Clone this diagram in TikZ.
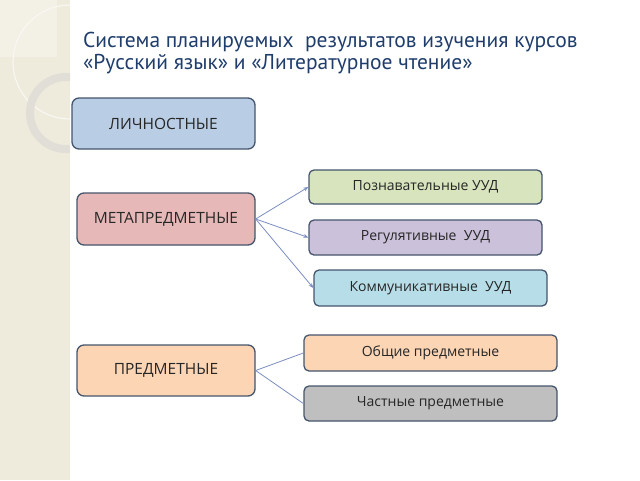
\documentclass[tikz,border=0pt]{standalone}
\usepackage{fontspec}
\setmainfont{PT Sans}
\newfontfamily\boxfont{Open Sans}
\usetikzlibrary{arrows.meta}
\definecolor{stripbg}{HTML}{EEEADC}
\definecolor{stripsq}{HTML}{F3F0E6}
\definecolor{ringgray}{HTML}{E0DED7}
\definecolor{titleblue}{HTML}{1F3D6B}
\definecolor{boxline}{HTML}{45556C}
\definecolor{linkblue}{HTML}{7A8DC0}
\definecolor{lichfill}{HTML}{B9CDE5}
\definecolor{metafill}{HTML}{E6B9B8}
\definecolor{pozfill}{HTML}{D7E4BD}
\definecolor{regfill}{HTML}{CCC1DA}
\definecolor{komfill}{HTML}{B7DEE8}
\definecolor{predfill}{HTML}{FCD5B5}
\definecolor{chastfill}{HTML}{BFBFBF}
\tikzset{
  box/.style={draw=boxline, line width=1.3pt, rounded corners=7pt, inner sep=0pt,
    text=black!85, font=\boxfont\fontsize{15.5}{18}\selectfont},
  smallbox/.style={box, rounded corners=5pt, font=\boxfont\fontsize{14}{16}\selectfont},
  link/.style={draw=linkblue, line width=0.8pt}
}
\begin{document}
\begin{tikzpicture}[x=1pt,y=-1pt,>=Stealth]
  \useasboundingbox (0,0) rectangle (640,480);
  % left strip
  \fill[stripbg] (0,0) rectangle (70,480);
  \fill[stripsq] (0,0) rectangle (57,57);
  \begin{scope}
    \clip (0,0) rectangle (70,480);
    \draw[white!60!stripbg, line width=1.2pt] (70,62) circle (57);
    \draw[ringgray, line width=8pt] (66,113) circle (36);
  \end{scope}
  % title
  \node[anchor=base west, inner sep=0pt, text=titleblue, font=\fontsize{21.5}{24}\selectfont]
    (title1) at (83,47) {Система планируемых\ \ результатов изучения курсов};
  \node[anchor=base west, inner sep=0pt, text=titleblue, font=\fontsize{21.5}{24}\selectfont]
    (title2) at (83,69) {«Русский язык» и «Литературное чтение»};
  % left column
  \node[box, fill=lichfill, minimum width=183, minimum height=51] (lich) at (163.5,123.5) {ЛИЧНОСТНЫЕ};
  \node[box, fill=metafill, minimum width=178, minimum height=52] (meta) at (166,219) {МЕТАПРЕДМЕТНЫЕ};
  \node[box, fill=predfill, minimum width=178, minimum height=51] (pred) at (166,370.5) {ПРЕДМЕТНЫЕ};
  % right column
  \node[smallbox, fill=pozfill, minimum width=233, minimum height=34] (poz) at (425.5,187) {Познавательные УУД};
  \node[smallbox, fill=regfill, minimum width=233, minimum height=35] (reg) at (425.5,237.5) {Регулятивные\ \ УУД};
  \node[smallbox, fill=komfill, minimum width=233, minimum height=36] (kom) at (430.5,288) {Коммуникативные\ \ УУД};
  \node[smallbox, fill=predfill, minimum width=253, minimum height=36] (obsh) at (430.5,353) {Общие предметные};
  \node[smallbox, fill=chastfill, minimum width=253, minimum height=35] (chast) at (430.5,403.5) {Частные предметные};
  % connectors
  \foreach \t in {poz,reg,kom}
    \draw[link,-{Stealth[length=5pt,width=4pt]}] (meta.east) -- (\t.west);
  \foreach \t in {obsh,chast}
    \draw[link] (pred.east) -- (\t.west);
\end{tikzpicture}
\end{document}
